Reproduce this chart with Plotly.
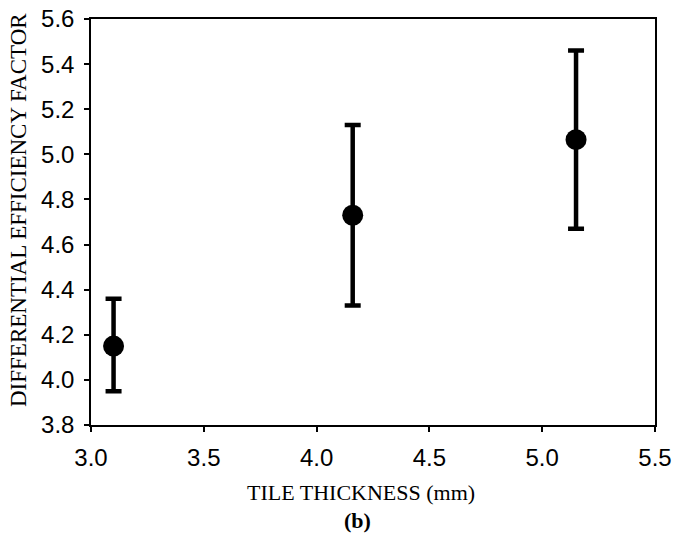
import plotly.graph_objects as go

thickness = [3.10, 4.16, 5.15]
factor = [4.15, 4.73, 5.065]
err_plus = [0.21, 0.40, 0.395]
err_minus = [0.20, 0.40, 0.395]

x_title = "TILE THICKNESS (mm)"
y_title = "DIFFERENTIAL EFFICIENCY FACTOR"
panel_label = "<b>(b)</b>"

# target plot area in page pixels
L, R, T, B = 91, 655, 19, 425
W, H = 673, 538
PW, PH = R - L, B - T

fig = go.Figure()
fig.add_trace(go.Scatter(
    x=thickness, y=factor, mode="markers",
    marker=dict(color="black", size=21),
    error_y=dict(type="data", symmetric=False, array=err_plus, arrayminus=err_minus,
                 color="black", thickness=4.5, width=8),
    showlegend=False,
))

tickfont = dict(family="Liberation Sans, Arial", size=24, color="black")
serif = "Liberation Serif, Times New Roman"

fig.update_layout(
    width=W, height=H,
    margin=dict(l=L, r=W - R, t=T, b=H - B, autoexpand=False),
    plot_bgcolor="white", paper_bgcolor="white",
    xaxis=dict(range=[3.0, 5.5], dtick=0.5, tickformat=".1f", showgrid=False, zeroline=False,
               showline=True, linecolor="black", linewidth=1.5, mirror=True,
               ticks="outside", ticklen=5, tickcolor="black", tickwidth=1.5,
               ticklabelstandoff=5, ticklabeloverflow="allow", tickfont=tickfont),
    yaxis=dict(range=[3.8, 5.6], dtick=0.2, tickformat=".1f", showgrid=False, zeroline=False,
               showline=True, linecolor="black", linewidth=1.5, mirror=True,
               ticks="outside", ticklen=5, tickcolor="black", tickwidth=1.5,
               ticklabelstandoff=5, ticklabeloverflow="allow", tickfont=tickfont),
)
fig.add_annotation(text=x_title, xref="paper", yref="paper",
                   x=(361 - L) / PW, y=-(492 - B) / PH, xanchor="center", yanchor="middle",
                   showarrow=False, font=dict(family=serif, size=22, color="black"))
fig.add_annotation(text=y_title, xref="paper", yref="paper", textangle=-90,
                   x=(18 - L) / PW, y=(B - 210) / PH, xanchor="center", yanchor="middle",
                   showarrow=False, font=dict(family=serif, size=23, color="black"))
fig.add_annotation(text=panel_label, xref="paper", yref="paper",
                   x=(357 - L) / PW, y=-(520 - B) / PH, xanchor="center", yanchor="middle",
                   showarrow=False, font=dict(family=serif, size=22, color="black"))
fig.write_html("out.html", config={"displayModeBar": False},
               post_script="document.body.style.margin='0';")
